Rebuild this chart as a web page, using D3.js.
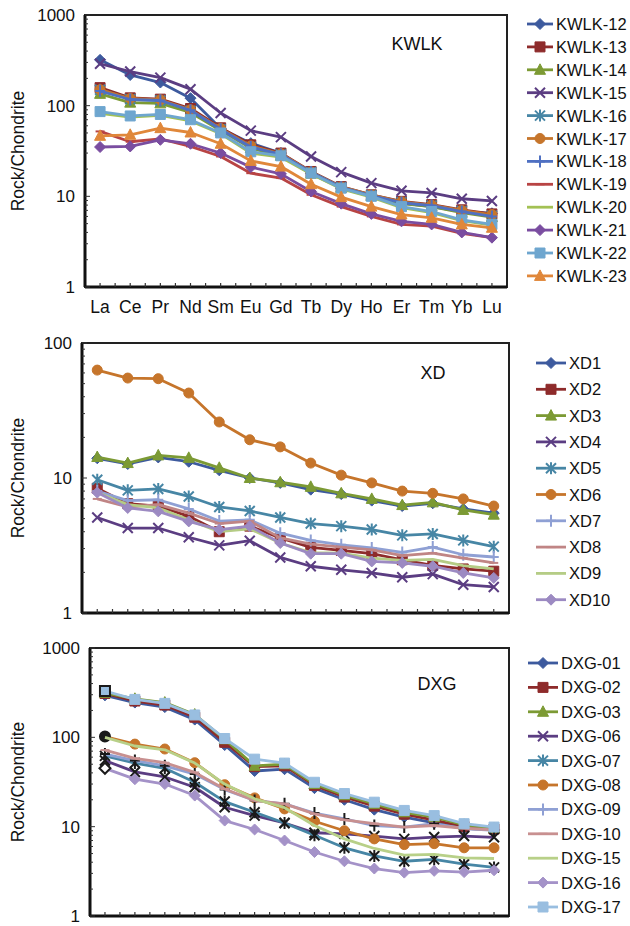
<!DOCTYPE html>
<html lang="en">
<head>
<meta charset="utf-8">
<title>REE patterns</title>
<script src="https://cdn.jsdelivr.net/npm/d3@7/dist/d3.min.js"></script>
<style>
  body { margin: 0; background: #fff; }
  text { font-family: "Liberation Sans", Arial, sans-serif; fill: #111; }
</style>
</head>
<body>
<script>
// REE categories (x axis)
var ree = ["La","Ce","Pr","Nd","Sm","Eu","Gd","Tb","Dy","Ho","Er","Tm","Yb","Lu"];

// KWLK panel
var kwlkNames = ["KWLK-12","KWLK-13","KWLK-14","KWLK-15","KWLK-16","KWLK-17","KWLK-18","KWLK-19","KWLK-20","KWLK-21","KWLK-22","KWLK-23"];
var kwlkValues = [
  [320,218,180,121,56,38.6,30,18,12.3,10,8.4,7.7,6.8,6.5],
  [158,122,118,93,57,37,30,18.8,12.8,10.4,8.8,8.1,7.1,6.4],
  [135,108,106,84,53,34,28,17.8,12.4,10.1,8.3,7.7,6.6,5.9],
  [290,238,204,152,83,53,45,27.5,18.5,14,11.5,10.9,9.4,8.9],
  [150,118,114,88,55,35,29,18.5,12.6,10.3,8.6,7.9,6.9,6.1],
  [150,120,116,90,56,36,29.5,18.6,12.7,10.4,8.7,8.0,7.0,6.3],
  [145,117,114,89,55,35,29,18.4,12.6,10.2,8.5,7.9,6.8,6.0],
  [52,40,43,35.5,27.5,18,15.9,10.4,7.7,6.0,4.9,4.7,3.9,3.5],
  [82,75,78,68,49,30,27,17.6,12.1,9.8,7.5,6.6,5.4,4.8],
  [35,35.5,42,38,30,21,17.7,11.3,8.3,6.4,5.3,4.9,4.0,3.5],
  [86,77,80,70,50,31,28,18,12.3,10,7.7,6.8,5.5,4.9],
  [46.5,47.7,56.5,50.6,38,24.6,21.3,13.6,9.8,7.7,6.3,5.8,4.9,4.5]
];

// XD panel
var xdNames = ["XD1","XD2","XD3","XD4","XD5","XD6","XD7","XD8","XD9","XD10"];
var xdValues = [
  [14,12.7,14.2,13.2,11.4,10,9.2,8.2,7.6,6.8,6.2,6.5,5.9,5.5],
  [8.4,6.45,6.2,5.2,4.0,4.4,3.6,3.06,2.91,2.75,2.48,2.25,2.12,2.04],
  [14.3,12.9,14.7,14.1,11.9,10,9.3,8.6,7.7,7.0,6.3,6.6,5.8,5.35],
  [5.1,4.26,4.26,3.64,3.17,3.43,2.58,2.22,2.09,1.98,1.84,1.94,1.62,1.56],
  [9.7,8.1,8.3,7.3,6.1,5.7,5.1,4.6,4.4,4.15,3.76,3.85,3.45,3.1],
  [63,55,54.4,42.6,26,19.2,17,12.9,10.5,9.2,8,7.7,7,6.2],
  [8.0,6.8,6.9,5.9,4.8,4.9,3.9,3.45,3.2,3.03,2.81,3.08,2.7,2.6],
  [7.0,6.1,6.35,5.5,4.6,4.8,3.6,3.24,3.08,2.94,2.66,2.78,2.55,2.35],
  [7.8,6.35,6.0,4.9,4.0,4.2,3.3,2.8,2.78,2.55,2.45,2.5,2.24,2.12],
  [7.8,6.0,5.66,4.77,4.14,4.4,3.3,2.75,2.75,2.41,2.35,2.22,1.98,1.82]
];

// DXG panel
var dxgNames = ["DXG-01","DXG-02","DXG-03","DXG-06","DXG-07","DXG-08","DXG-09","DXG-10","DXG-15","DXG-16","DXG-17"];
var dxgValues = [
  [295,245,218,158,82,42,44,27,20,15.5,12.8,11,9.6,9.2],
  [310,255,230,168,88,47,48,29,21.5,17,13.8,11.8,10,9.4],
  [315,270,245,180,95,48,50,30,22.5,18,14.5,12.8,10.5,9.6],
  [55,41,36,27.6,16.5,13.3,11.0,8.55,8.3,7.85,7.3,7.65,7.85,7.6],
  [62,51.5,45,31.4,19.1,14.5,11.0,8.0,5.8,4.7,4.1,4.3,3.8,3.5],
  [102,84,74,52,29.5,21,15.8,11.5,9.0,7.3,6.3,6.45,5.8,5.8],
  [65,55,48,38.8,26,19.6,18,14.2,12.2,10.3,9.9,10.8,9.5,9.1],
  [72,58,52,40.5,26.4,19.6,18,13.9,11.9,10.8,9.9,10.3,9.6,9.2],
  [100,80,72.5,51.5,30,20.5,16.3,10.3,7.3,5.7,4.8,4.9,4.47,4.4],
  [45,34,30,22.3,11.7,9.3,7.0,5.2,4.1,3.4,3.06,3.2,3.1,3.25],
  [330,266,240,178,97,57,51.5,31.4,23.5,18.8,15.2,13.3,10.8,9.9]
];

var w = 630, h = 926;
var svg = d3.select("body").append("svg").attr("width", w).attr("height", h);

var darkCols = ["#3d5a9e","#8e2b2b","#7c9a34","#5b3d82","#4786a5","#c6752b"];
var shapes = ["diamond","square","triangle","x","star","circle","plus","dash","none","diamond","square","triangle"];

// marker path, centred on 0,0
function markerPath(s) {
  switch (s) {
    case "diamond": return "M0,-5.5L5.5,0L0,5.5L-5.5,0Z";
    case "square": return "M-5,-5H5V5H-5Z";
    case "triangle": return "M0,-6L5.5,4.5L-5.5,4.5Z";
    case "circle": return "M-5,0A5,5 0 1,0 5,0A5,5 0 1,0 -5,0Z";
    case "x": return "M-5,-5L5,5M-5,5L5,-5";
    case "star": return "M-5,-5L5,5M-5,5L5,-5M0,-6V6";
    case "plus": return "M-5,0H5M0,-6V6";
    case "dash": return "M-4.5,0H4.5";
    default: return "";
  }
}
function isOpen(s) { return s == "x" || s == "star" || s == "plus" || s == "dash"; }

// fill / stroke of one marker
function drawMarker(g, shape, fill, stroke, x, y, sw) {
  if (shape == "none") return;
  g.append("path")
    .attr("d", markerPath(shape))
    .attr("transform", "translate(" + x + "," + y + ")")
    .attr("fill", isOpen(shape) ? "none" : fill)
    .attr("stroke", stroke)
    .attr("stroke-width", isOpen(shape) ? 2 : (sw || 1));
}

function panel(opt) {
  var g = svg.append("g");
  var x = d3.scalePoint().domain(ree).range([opt.left, opt.right]).padding(0.5);
  var y = d3.scaleLog().domain(opt.domain).range([opt.bottom, opt.top]);
  var step = x.step();

  // frame
  g.append("rect")
    .attr("x", opt.left).attr("y", opt.top)
    .attr("width", opt.right - opt.left).attr("height", opt.bottom - opt.top)
    .attr("fill", "none").attr("stroke", "#222").attr("stroke-width", 2);
  g.append("line")
    .attr("x1", opt.left).attr("x2", opt.left).attr("y1", opt.top).attr("y2", opt.bottom)
    .attr("stroke", "#111").attr("stroke-width", 3);
  g.append("line")
    .attr("x1", opt.left).attr("x2", opt.right).attr("y1", opt.bottom).attr("y2", opt.bottom)
    .attr("stroke", "#111").attr("stroke-width", 3);

  // y ticks, log scale
  var ticks = y.ticks();
  ticks.forEach(function(t) {
    var major = Math.abs(Math.log10(t) - Math.round(Math.log10(t))) < 1e-9;
    g.append("line")
      .attr("x1", opt.left).attr("x2", opt.left + (major ? 5 : 3))
      .attr("y1", y(t)).attr("y2", y(t))
      .attr("stroke", "#333").attr("stroke-width", 1);
    if (major) {
      g.append("text")
        .attr("x", opt.left - 10).attr("y", y(t) + 6)
        .attr("text-anchor", "end").attr("font-size", "17px")
        .text(d3.format("d")(t));
    }
  });

  // x ticks at categories and between them
  ree.forEach(function(c, i) {
    [x(c) - step / 2, x(c)].forEach(function(px, j) {
      if (i == 0 && j == 0) return;
      g.append("line")
        .attr("x1", px).attr("x2", px)
        .attr("y1", opt.bottom).attr("y2", opt.bottom - 4)
        .attr("stroke", "#333").attr("stroke-width", 1.2);
    });
  });
  if (opt.xLabels) {
    ree.forEach(function(c) {
      g.append("text")
        .attr("x", x(c)).attr("y", opt.bottom + 26)
        .attr("text-anchor", "middle").attr("font-size", "17.5px")
        .text(c);
    });
  }

  // axis title
  g.append("text")
    .attr("transform", "translate(24," + ((opt.top + opt.bottom) / 2) + ") rotate(-90)")
    .attr("text-anchor", "middle").attr("font-size", "17.5px")
    .text("Rock/Chondrite");

  // panel label
  g.append("text")
    .attr("x", opt.labelX).attr("y", opt.labelY)
    .attr("text-anchor", "middle").attr("font-size", "18px")
    .text(opt.label);

  var line = d3.line()
    .x(function(d, i) { return x(ree[i]); })
    .y(function(d) { return y(d); });

  opt.values.forEach(function(vals, k) {
    var col = opt.colors[k];
    g.append("path")
      .attr("d", line(vals))
      .attr("fill", "none").attr("stroke", col)
      .attr("stroke-width", 2.8).attr("stroke-linejoin", "round");
    var name = opt.names[k];
    var dark = opt.blackMarks && opt.blackMarks.indexOf(name) >= 0;
    var firstDark = opt.firstBlack && opt.firstBlack.indexOf(name) >= 0;
    vals.forEach(function(v, i) {
      var fill = col, stroke = col, sw = 1;
      if (dark) { fill = "#1a1a1a"; stroke = "#1a1a1a"; }
      if (firstDark && i == 0) {
        stroke = "#1a1a1a"; sw = 2;
        if (shapes[k] == "diamond") fill = "#fff";
        else if (shapes[k] == "circle") fill = "#1a1a1a";
      }
      drawMarker(g, shapes[k], fill, stroke, x(ree[i]), y(v), sw);
    });
  });

  // legend
  opt.names.forEach(function(n, k) {
    var ly = opt.legY + k * opt.legStep;
    var col = opt.colors[k];
    g.append("line")
      .attr("x1", opt.legX).attr("x2", opt.legX + opt.legLen)
      .attr("y1", ly).attr("y2", ly)
      .attr("stroke", col).attr("stroke-width", 2.8);
    drawMarker(g, shapes[k], col, col, opt.legX + opt.legLen / 2, ly);
    g.append("text")
      .attr("x", opt.legX + opt.legLen + 3).attr("y", ly + 6)
      .attr("font-size", "16.5px")
      .text(n);
  });
}

panel({
  names: kwlkNames, values: kwlkValues,
  colors: darkCols.concat(["#4f70c2","#b84444","#a3c154","#7a4da0","#6ea6cf","#e0873a"]),
  left: 85, right: 507, top: 15, bottom: 287, domain: [1, 1000],
  xLabels: true, label: "KWLK", labelX: 417, labelY: 50,
  legX: 527, legLen: 26, legY: 24, legStep: 22.9
});

panel({
  names: xdNames, values: xdValues,
  colors: darkCols.concat(["#8fa0d4","#c08585","#b5cc85","#9c8ac2"]),
  left: 82, right: 509, top: 343, bottom: 613, domain: [1, 100],
  xLabels: false, label: "XD", labelX: 433, labelY: 379,
  legX: 536, legLen: 30, legY: 363, legStep: 26.3
});

panel({
  names: dxgNames, values: dxgValues,
  colors: darkCols.concat(["#8fa0d4","#c89090","#b8d088","#a492c8","#99bee0"]),
  blackMarks: ["DXG-06","DXG-07","DXG-09"],
  firstBlack: ["DXG-08","DXG-16","DXG-17"],
  left: 90, right: 509, top: 648, bottom: 916, domain: [1, 1000],
  xLabels: false, label: "DXG", labelX: 437, labelY: 690,
  legX: 528, legLen: 30, legY: 663, legStep: 24.4
});
</script>
</body>
</html>
